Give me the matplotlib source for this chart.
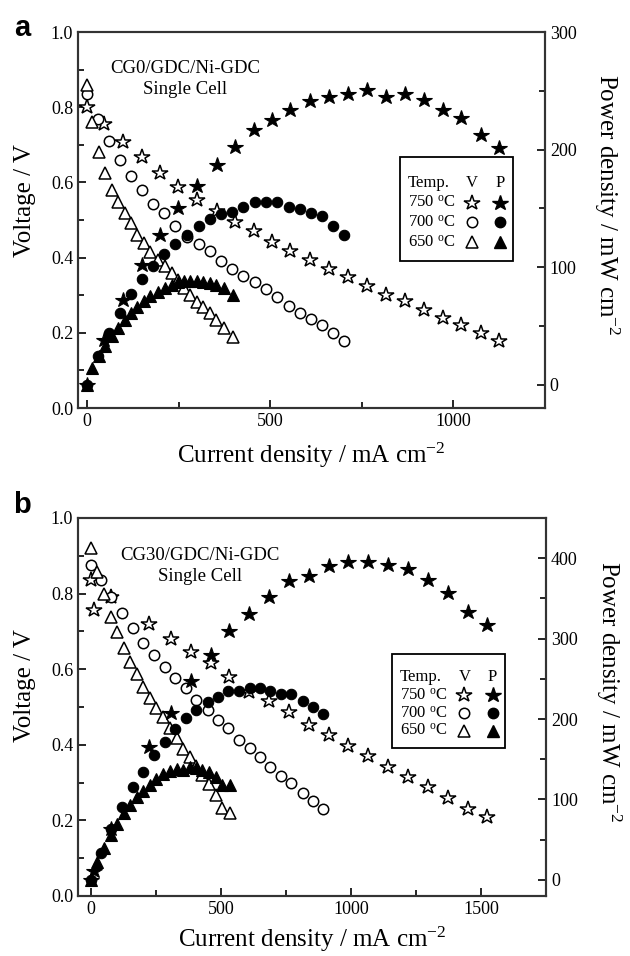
import matplotlib
matplotlib.use("Agg")
import matplotlib.pyplot as plt
from matplotlib.patches import Rectangle
from matplotlib.ticker import MultipleLocator

plt.rcParams["font.family"] = ["Liberation Serif", "DejaVu Serif"]
plt.rcParams["mathtext.fontset"] = "custom"
plt.rcParams["mathtext.rm"] = "Liberation Serif"
plt.rcParams["mathtext.it"] = "Liberation Serif:italic"

# -----------------------------
# DATA  (a) CG0/GDC/Ni-GDC
# -----------------------------
a_i750 = [0, 45, 97, 149, 199, 249, 300, 354, 404, 454, 504, 554, 609, 660, 712,
          764, 817, 867, 919, 971, 1022, 1074, 1124]
a_v750 = [0.80, 0.755, 0.708, 0.668, 0.624, 0.589, 0.553, 0.525, 0.495, 0.472, 0.442,
          0.418, 0.394, 0.371, 0.348, 0.325, 0.30, 0.285, 0.262, 0.240, 0.222, 0.199, 0.178]
a_p750 = [0, 38, 72, 102, 127, 150, 169, 187, 202, 217, 225, 234, 241, 245, 247,
          251, 245, 247, 242, 234, 227, 212, 201]

a_i700 = [0, 28, 58, 90, 120, 150, 180, 210, 240, 272, 304, 335, 365, 395, 425,
          457, 488, 518, 550, 580, 610, 640, 670, 700]
a_v700 = [0.835, 0.768, 0.711, 0.66, 0.617, 0.58, 0.542, 0.518, 0.484, 0.455, 0.436,
          0.418, 0.392, 0.369, 0.351, 0.336, 0.316, 0.296, 0.272, 0.254, 0.236, 0.222,
          0.199, 0.179]
a_p700 = [0, 24, 44, 61, 77, 90, 101, 111, 120, 127, 135, 141, 145, 147, 151, 155,
          155, 155, 151, 149, 146, 143, 135, 127]

a_i650 = [0, 13, 31, 49, 67, 85, 102, 120, 136, 155, 172, 192, 211, 231, 248, 265,
          281, 299, 317, 334, 352, 374, 399]
a_v650 = [0.859, 0.761, 0.682, 0.624, 0.58, 0.549, 0.518, 0.491, 0.46, 0.438, 0.416,
          0.395, 0.378, 0.358, 0.34, 0.32, 0.30, 0.283, 0.268, 0.252, 0.234, 0.212, 0.19]
a_p650 = [0, 14, 24, 33, 41, 48, 55, 61, 66, 71, 75, 79, 82, 85, 87, 88, 88, 88, 87,
          86, 85, 82, 76]

# -----------------------------
# DATA  (b) CG30/GDC/Ni-GDC
# -----------------------------
b_i750 = [0, 12, 76, 223, 307, 383, 460, 531, 608, 685, 762, 838, 913, 986, 1063,
          1140, 1217, 1294, 1371, 1448, 1522]
b_v750 = [0.836, 0.757, 0.79, 0.72, 0.679, 0.646, 0.616, 0.58, 0.54, 0.515, 0.487,
          0.453, 0.426, 0.398, 0.369, 0.342, 0.316, 0.289, 0.258, 0.229, 0.208]
b_p750 = [0, 11, 63, 165, 207, 247, 280, 310, 331, 352, 372, 378, 390, 395, 395,
          391, 386, 373, 357, 333, 317]

b_i700 = [0, 37, 76, 120, 162, 200, 242, 285, 323, 364, 403, 448, 489, 528, 570,
          611, 650, 689, 730, 768, 813, 852, 893]
b_v700 = [0.876, 0.836, 0.79, 0.748, 0.708, 0.668, 0.638, 0.607, 0.576, 0.549, 0.519,
          0.492, 0.466, 0.444, 0.413, 0.391, 0.367, 0.342, 0.317, 0.298, 0.273, 0.252, 0.229]
b_p700 = [0, 33, 63, 90, 115, 134, 155, 172, 188, 201, 211, 221, 227, 235, 235, 239,
          239, 235, 231, 231, 223, 215, 206]

b_i650 = [0, 24, 50, 76, 101, 127, 150, 176, 200, 226, 251, 278, 304, 330, 354, 380,
          404, 428, 454, 480, 505, 534]
b_v650 = [0.92, 0.858, 0.80, 0.739, 0.697, 0.655, 0.62, 0.587, 0.554, 0.523, 0.497,
          0.474, 0.444, 0.417, 0.388, 0.367, 0.343, 0.32, 0.296, 0.267, 0.232, 0.22]
b_p650 = [0, 22, 40, 56, 70, 83, 93, 103, 111, 118, 125, 132, 135, 138, 137, 140,
          139, 137, 134, 128, 118, 118]

temps = ["750", "700", "650"]
markers = ["*", "o", "^"]
msizes = [11.5, 7.5, 8]

# -----------------------------
# FIGURE
# -----------------------------
fig = plt.figure(figsize=(6.3, 9.56), dpi=100)
ax_a = fig.add_axes([0.124, 0.5732, 0.741, 0.3933])
ax_b = fig.add_axes([0.124, 0.0628, 0.743, 0.3954])


def draw_panel(ax, series, xlim, pylim, cell, cell_xy, leg_box, xlab_y, ylab_y):
    ax2 = ax.twinx()
    for (i, v, p), m, ms in zip(series, markers, msizes):
        ax.plot(i, v, ls="none", marker=m, ms=ms, mfc="white", mec="black", mew=1.1,
                clip_on=False, zorder=3)
        ax2.plot(i, p, ls="none", marker=m, ms=ms, mfc="black", mec="black", mew=0.8,
                 clip_on=False, zorder=3)

    ax.set_xlim(*xlim)
    ax.set_ylim(0, 1.0)
    ax2.set_ylim(*pylim)
    ax.xaxis.set_major_locator(MultipleLocator(500))
    ax.xaxis.set_minor_locator(MultipleLocator(250))
    ax.yaxis.set_major_locator(MultipleLocator(0.2))
    ax.yaxis.set_minor_locator(MultipleLocator(0.1))
    ax.yaxis.set_major_formatter(plt.FormatStrFormatter("%.1f"))
    ax2.yaxis.set_major_locator(MultipleLocator(100))
    ax2.yaxis.set_minor_locator(MultipleLocator(50))

    ax.tick_params(which="both", direction="in", top=False, right=False, labelsize=13,
                   width=1.2)
    ax.tick_params(which="major", length=6)
    ax.tick_params(which="minor", length=4)
    ax2.tick_params(which="both", direction="in", labelsize=13, width=1.2)
    ax2.tick_params(which="major", length=6)
    ax2.tick_params(which="minor", length=4)
    for a in (ax, ax2):
        for s in a.spines.values():
            s.set_linewidth(1.5)
            s.set_color("#333333")

    ax.set_xlabel("Current density / mA cm$^{-2}$", fontsize=18, va="center")
    ax.xaxis.set_label_coords(0.5, xlab_y)
    ax.set_ylabel("Voltage / V", fontsize=18, va="center")
    ax.yaxis.set_label_coords(-0.113, ylab_y)
    ax2.set_ylabel("Power density / mW cm$^{-2}$", fontsize=18, rotation=270, va="center")
    ax2.yaxis.set_label_coords(1.133, 0.54)

    ax.text(cell_xy[0], cell_xy[1], cell, transform=ax.transAxes, fontsize=13.5,
            ha="center", va="center")
    ax.text(cell_xy[0], cell_xy[1] - 0.058, "Single Cell", transform=ax.transAxes,
            fontsize=13.5, ha="center", va="center")

    # legend box: Temp. / V / P
    x0, y0, x1, y1 = leg_box
    ax.add_patch(Rectangle((x0, y0), x1 - x0, y1 - y0, transform=ax.transAxes,
                           fill=False, lw=1.3, ec="black", zorder=4))
    w, h = x1 - x0, y1 - y0
    xt = x0 + 0.07 * w
    xv = x0 + 0.64 * w
    xp = x0 + 0.89 * w
    rows = [y1 - 0.25 * h, y1 - 0.44 * h, y1 - 0.63 * h, y1 - 0.82 * h]
    ax.text(xt, rows[0], "Temp.", transform=ax.transAxes, fontsize=12,
            ha="left", va="center")
    ax.text(xv, rows[0], "V", transform=ax.transAxes, fontsize=12, ha="center", va="center")
    ax.text(xp, rows[0], "P", transform=ax.transAxes, fontsize=12, ha="center", va="center")
    for t, m, ms, yy in zip(temps, markers, msizes, rows[1:]):
        ax.text(xt, yy, t + " $^{\\mathrm{o}}$C", transform=ax.transAxes,
                fontsize=12, ha="left", va="center")
        ax.plot([xv], [yy], transform=ax.transAxes, marker=m, ms=ms, mfc="white",
                mec="black", mew=1.1, clip_on=False, zorder=5)
        ax.plot([xp], [yy], transform=ax.transAxes, marker=m, ms=ms, mfc="black",
                mec="black", clip_on=False, zorder=5)
    return ax2


draw_panel(ax_a,
           [(a_i750, a_v750, a_p750), (a_i700, a_v700, a_p700), (a_i650, a_v650, a_p650)],
           (-25, 1250), (-20, 300),
           "CG0/GDC/Ni-GDC", (0.229, 0.904), (0.690, 0.391, 0.931, 0.668), -0.125, 0.553)
draw_panel(ax_b,
           [(b_i750, b_v750, b_p750), (b_i700, b_v700, b_p700), (b_i650, b_v650, b_p650)],
           (-50, 1750), (-20, 450),
           "CG30/GDC/Ni-GDC", (0.26, 0.902), (0.671, 0.392, 0.912, 0.640), -0.116, 0.556)

fig.text(0.035, 0.971, "a", fontsize=21, fontweight="bold", family="Liberation Sans",
         ha="center", va="center")
fig.text(0.035, 0.472, "b", fontsize=21, fontweight="bold", family="Liberation Sans",
         ha="center", va="center")

fig.savefig("out.png", dpi=100)
